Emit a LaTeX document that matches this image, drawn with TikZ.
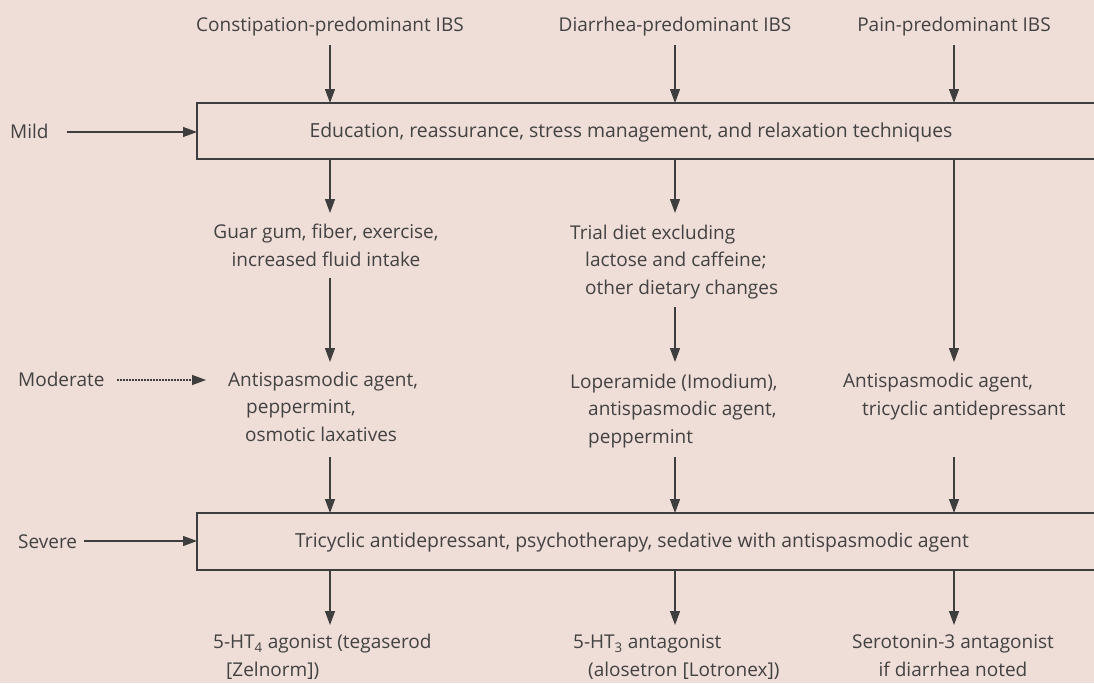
\documentclass[tikz,border=0pt]{standalone}
\usepackage{fontspec}
\setmainfont{Open Sans}
\usetikzlibrary{arrows.meta}
\definecolor{bg}{RGB}{239,221,215}
\definecolor{ink}{RGB}{62,62,62}
\definecolor{txt}{RGB}{66,66,66}
\tikzset{
  lbl/.style={inner sep=0pt, text=txt, font=\fontsize{19}{27.5}\selectfont, align=left, anchor=base west},
  ctr/.style={inner sep=0pt, text=txt, font=\fontsize{19}{27.5}\selectfont, align=center, anchor=base},
  boxtxt/.style={ctr, font=\fontsize{19.4}{27.5}\selectfont},
  box/.style={draw=ink, line width=1.3pt, fill=none, inner sep=0pt},
  arr/.style={draw=ink, line width=1.2pt, -{Triangle[length=14pt,width=10pt]}},
  darr/.style={arr, dash pattern=on 2pt off 1pt},
}
\begin{document}
\begin{tikzpicture}[x=1pt,y=-1pt]
\fill[bg] (0,0) rectangle (1094,683);
\useasboundingbox (0,0) rectangle (1094,683);
% columns
\coordinate (x1) at (330,0);
\coordinate (x2) at (675,0);
\coordinate (x3) at (954,0);
% boxes
\draw[box] (197,103) rectangle (1110,159);
\coordinate (b1n) at (197,103);
\coordinate (b1s) at (197,159);
\draw[box] (197,513) rectangle (1110,570);
\coordinate (b2n) at (197,513);
\coordinate (b2s) at (197,570);
\coordinate (b1w) at (197,131);
\coordinate (b2w) at (197,541);
\node[boxtxt] (t1) at (631,137) {Education, reassurance, stress management, and relaxation techniques};
\node[boxtxt] (t2) at (632,547) {Tricyclic antidepressant, psychotherapy, sedative with antispasmodic agent};
% top labels
\node[ctr] (c1) at (330,31) {Constipation-predominant IBS};
\node[ctr] (c2) at (675,31) {Diarrhea-predominant IBS};
\node[ctr] (c3) at (954,31) {Pain-predominant IBS};
% side labels
\node[lbl] (mild) at (10,138) {Mild};
\node[lbl] (mod) at (18,386) {Moderate};
\node[lbl] (sev) at (18,548) {Severe};
\coordinate (mildS) at (67,132);
\coordinate (modS) at (117,380);
\coordinate (sevS) at (84,541);
% mid texts
\node[ctr] (g1) at (326,266) {Guar gum, fiber, exercise,\\increased fluid intake};
\node[lbl] (g2) at (570,294) {Trial diet excluding\\\hspace*{15pt}lactose and caffeine;\\\hspace*{15pt}other dietary changes};
\node[lbl] (m1) at (228,441) {Antispasmodic agent,\\\hspace*{18pt}peppermint,\\\hspace*{17pt}osmotic laxatives};
\node[lbl] (m2) at (570,443) {Loperamide (Imodium),\\\hspace*{18pt}antispasmodic agent,\\\hspace*{18pt}peppermint};
\node[lbl] (m3) at (843,415) {Antispasmodic agent,\\\hspace*{19pt}tricyclic antidepressant};
% bottom texts
\node[lbl] (s1) at (213,676) {5-HT\textsubscript{4} agonist (tegaserod\\\hspace*{13pt}[Zelnorm])};
\node[lbl] (s2) at (573,676) {5-HT\textsubscript{3} antagonist\\\hspace*{15pt}(alosetron [Lotronex])};
\node[ctr] (s3) at (953,676) {Serotonin-3 antagonist\\if diarrhea noted};
% arrows: top
\draw[arr] (x1 |- 0,45) -- (x1 |- b1n);
\draw[arr] (x2 |- 0,45) -- (x2 |- b1n);
\draw[arr] (x3 |- 0,45) -- (x3 |- b1n);
% level arrows
\draw[arr] (mildS) -- (mildS -| b1w);
\draw[darr] (modS) -- (modS -| 206,0);
\draw[arr] (sevS) -- (sevS -| b2w);
% box1 down
\draw[arr] (x1 |- b1s) -- (x1 |- 0,213);
\draw[arr] (x2 |- b1s) -- (x2 |- 0,213);
\draw[arr] (x3 |- b1s) -- (x3 |- 0,362);
% mid down
\draw[arr] (x1 |- 0,278) -- (x1 |- 0,362);
\draw[arr] (x2 |- 0,307) -- (x2 |- 0,362);
% to box2
\draw[arr] (x1 |- 0,457) -- (x1 |- b2n);
\draw[arr] (x2 |- 0,457) -- (x2 |- b2n);
\draw[arr] (x3 |- 0,457) -- (x3 |- b2n);
% box2 down
\draw[arr] (x1 |- b2s) -- (x1 |- 0,625);
\draw[arr] (x2 |- b2s) -- (x2 |- 0,625);
\draw[arr] (x3 |- b2s) -- (x3 |- 0,625);
\end{tikzpicture}
\end{document}
